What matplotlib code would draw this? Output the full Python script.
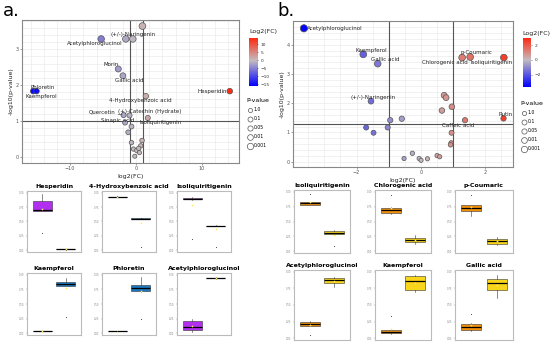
import numpy as np
import matplotlib
matplotlib.use('Agg')
import matplotlib.pyplot as plt
from matplotlib.colors import LinearSegmentedColormap, TwoSlopeNorm

plt.rcParams['font.family'] = 'DejaVu Sans'

# ---- volcano a ----
a_fc = [0.96, -1.56, -0.5, -5.3, -2.7, -2.0, -15.6, -15.1, 14.2, 1.47, 1.77, -1.0,
        -1.9, -1.67, -0.7, -1.2, -0.7, 0.9, 0.7, -0.4, 0.1, 0.4, 0.5, -0.2]
a_logp = [3.65, 3.29, 3.29, 3.29, 2.45, 2.26, 1.83, 1.83, 1.83, 1.69, 1.08, 1.15,
          1.16, 0.95, 0.84, 0.68, 0.39, 0.45, 0.3, 0.21, 0.17, 0.23, 0.11, 0.01]
a_labels = {2: '(+/-)-Naringenin', 3: 'Acetylphloroglucinol', 4: 'Morin', 5: 'Gallic acid',
            6: 'Phloretin', 7: 'Kaempferol', 8: 'Hesperidin', 9: '4-Hydroxybenzoic acid',
            10: 'Isoliquiritigenin', 11: '(+)-Catechin (Hydrate)', 12: 'Quercetin',
            13: 'Sinapic acid'}
# label offsets (data units)
a_offsets = {2: (0, 0.13), 3: (-1.0, -0.14), 4: (-1.1, 0.13), 5: (1.0, -0.12),
             6: (1.5, 0.11), 7: (0.7, -0.15), 8: (-2.6, 0), 9: (-0.9, -0.13),
             10: (2.0, -0.13), 11: (3.1, 0.12), 12: (-3.3, 0.08), 13: (-1.2, 0.05)}

# ---- volcano b ----
b_fc = [-3.64, -1.79, -1.34, -1.55, 1.54, 1.29, 2.59, 2.58, 1.38, 0.73, 0.79, 0.97,
        0.66, 0.96, 0.95, 0.93, -0.95, -0.59, -1.03, -1.7, -1.47, -0.52, -0.26,
        -0.05, 0.01, 0.21, 0.51, 0.59]
b_logp = [4.56, 3.67, 3.35, 2.07, 3.58, 3.56, 3.56, 1.48, 1.42, 2.27, 2.19, 1.88,
          1.75, 0.99, 0.64, 0.58, 1.42, 1.47, 1.17, 1.17, 0.99, 0.11, 0.29, 0.11,
          0.05, 0.10, 0.21, 0.17]
b_labels = {0: 'Acetylphloroglucinol', 1: 'Kaempferol', 2: 'Gallic acid',
            3: '(+/-)-Naringenin', 4: 'p-Coumaric', 5: 'Chlorogenic acid',
            6: 'Isoliquiritigenin', 7: 'Rutin', 8: 'Caffeic acid'}
b_offsets = {0: (0.96, 0), 1: (0.24, 0.12), 2: (0.22, 0.14), 3: (0.08, 0.14),
             4: (0.21, 0.16), 5: (-0.53, -0.16), 6: (-0.38, -0.16), 7: (0.06, 0.14),
             8: (-0.2, -0.17)}

pvals = [1.0, 0.1, 0.05, 0.01, 0.001]

# ---- box panels (normalised intensity) ----
a_box_titles = ['Hesperidin', '4-Hydroxybenzoic acid', 'Isoliquiritigenin',
                'Kaempferol', 'Phloretin', 'Acetylphloroglucinol']
a_box_g1 = [[0.3, 0.68, 0.68, 0.70, 0.85, 0.86, 0.98],
            [0.93, 0.93, 0.935, 0.93, 0.94, 0.93],
            [0.2, 0.88, 0.89, 0.9, 0.92, 0.93],
            [0.03, 0.04, 0.04, 0.04, 0.045],
            [0.02, 0.03, 0.03, 0.03, 0.035],
            [0.02, 0.05, 0.08, 0.15, 0.23, 0.25]]
a_box_g2 = [[0.01, 0.02, 0.02, 0.02, 0.03, 0.02],
            [0.05, 0.55, 0.55, 0.555, 0.56, 0.55],
            [0.06, 0.42, 0.43, 0.43, 0.44, 0.43],
            [0.28, 0.81, 0.83, 0.86, 0.89, 0.95],
            [0.25, 0.71, 0.75, 0.8, 0.84, 0.96],
            [0.93, 0.94, 0.95, 0.95, 0.96]]

b_box_titles = ['Isoliquiritigenin', 'Chlorogenic acid', 'p-Coumaric',
                'Acetylphloroglucinol', 'Kaempferol', 'Gallic acid']
b_box_g1 = [[0.77, 0.78, 0.8, 0.81, 0.83, 0.96],
            [0.62, 0.64, 0.68, 0.71, 0.74, 0.95],
            [0.6, 0.68, 0.7, 0.74, 0.78, 0.95],
            [0.04, 0.18, 0.2, 0.22, 0.25, 0.26],
            [0.06, 0.07, 0.09, 0.1, 0.13, 0.33],
            [0.1, 0.12, 0.15, 0.18, 0.23, 0.37]]
b_box_g2 = [[0.08, 0.28, 0.3, 0.32, 0.34, 0.36],
            [0.12, 0.14, 0.17, 0.2, 0.23, 0.28],
            [0.1, 0.12, 0.15, 0.18, 0.22, 0.24],
            [0.77, 0.82, 0.86, 0.9, 0.92, 0.93],
            [0.7, 0.71, 0.8, 0.93, 0.94, 0.95],
            [0.6, 0.7, 0.8, 0.88, 0.89, 0.96]]

W, H = 550, 354
fig = plt.figure(figsize=(5.5, 3.54), dpi=100)


def px_axes(x0, x1, y0, y1):
    return fig.add_axes([x0 / W, 1 - y1 / H, (x1 - x0) / W, (y1 - y0) / H])


cmap = LinearSegmentedColormap.from_list('fc', ['#0000ff', '#c4bcc0', '#ff2a10'])


def psize(y):
    return 9 + 4 * np.asarray(y)


def volcano(ax, fc, logp, labels, offsets, lims, xlim, ylim, xt, yt, hline, cax, cticks):
    norm = TwoSlopeNorm(vcenter=0, vmin=lims[0], vmax=lims[1])
    ax.set_facecolor('white')
    ax.grid(True, which='both', color='#ebebeb', lw=0.5)
    ax.set_axisbelow(True)
    ax.axvline(-1, color='#555555', lw=0.8, zorder=1)
    ax.axvline(1, color='#555555', lw=0.8, zorder=1)
    ax.axhline(hline, color='#555555', lw=0.8, zorder=1)
    ax.scatter(fc, logp, c=fc, cmap=cmap, norm=norm, s=psize(logp),
               edgecolors='#555555', linewidths=0.5, zorder=3)
    for i, lab in labels.items():
        dx, dy = offsets[i]
        if lab == 'Quercetin':
            ax.annotate(lab, (fc[i], logp[i]), (fc[i] + dx, logp[i] + dy),
                        fontsize=4, ha='center', va='center', color='#222222',
                        arrowprops=dict(arrowstyle='-', lw=0.4, color='#333333',
                                        shrinkA=8, shrinkB=1), zorder=4)
        else:
            ax.text(fc[i] + dx, logp[i] + dy, lab, fontsize=4, ha='center',
                    va='center', color='#222222', zorder=4)
    ax.set_xlim(*xlim)
    ax.set_ylim(*ylim)
    ax.set_xticks(xt)
    ax.set_yticks(yt)
    ax.minorticks_on()
    ax.tick_params(labelsize=3.5, length=1.5, width=0.4, colors='#555555', pad=1)
    ax.tick_params(which='minor', length=0)
    for s in ax.spines.values():
        s.set_color('#888888')
        s.set_linewidth(0.8)
    ax.set_xlabel('log2(FC)', fontsize=4.5, labelpad=1.5, color='#222222')
    ax.set_ylabel('-log10(p-value)', fontsize=4.5, labelpad=1.5, color='#222222')
    # colour bar
    grad = np.linspace(lims[0], lims[1], 256)
    cax.imshow(grad[:, None], extent=[0, 1, lims[0], lims[1]], origin='lower',
               aspect='auto', cmap=cmap, norm=norm)
    cax.set_xticks([])
    cax.yaxis.tick_right()
    cax.set_yticks(cticks)
    cax.tick_params(labelsize=3.2, length=1, width=0.4, pad=1.5, colors='#333333')
    for s in cax.spines.values():
        s.set_visible(False)


# panel a volcano
ax_a = px_axes(22, 239, 20, 163)
cax_a = px_axes(249, 257, 38, 86)
volcano(ax_a, a_fc, a_logp, a_labels, a_offsets, (-16, 14), (-17.3, 15.6), (-0.18, 3.82),
        [-10, 0, 10], [0, 1, 2, 3], 1.0, cax_a, [-15, -10, -5, 0, 5, 10])

# panel b volcano
ax_b = px_axes(293, 513, 21, 167)
cax_b = px_axes(523, 531, 38, 87)
volcano(ax_b, b_fc, b_logp, b_labels, b_offsets, (-3.7, 3.0), (-3.98, 2.875), (-0.18, 4.81),
        [-2, 0, 2], [0, 1, 2, 3, 4], 1.3, cax_b, [-2, 0, 2])

for x, y in [(249, 32), (522, 33)]:
    fig.text(x / W, 1 - y / H, 'Log2(FC)', fontsize=4.5, ha='left', va='center',
             color='#222222')

# size legends
for ax_, (x, y) in [(ax_a, (245, 96)), (ax_b, (519, 99))]:
    handles = [ax_.scatter([], [], s=psize(-np.log10(p)), facecolors='white',
                           edgecolors='#555555', linewidths=0.5) for p in pvals]
    leg = fig.legend(handles, [str(p) for p in pvals], title='P-value', loc='upper left',
                     bbox_to_anchor=(x / W, 1 - y / H), frameon=False, fontsize=3.3,
                     title_fontsize=4.5, labelspacing=0.9, handletextpad=0.3,
                     borderaxespad=0, handlelength=1.2)
    leg._legend_box.align = 'left'

fig.text(3 / W, 1 - 11 / H, 'a.', fontsize=13, ha='left', va='center')
fig.text(277 / W, 1 - 11 / H, 'b.', fontsize=13, ha='left', va='center')


def boxpanel(ax, title, g1, g2, c1, c2):
    bp = ax.boxplot([g1, g2], positions=[1, 2], widths=0.8, patch_artist=True,
                    showmeans=True,
                    medianprops=dict(color='black', lw=0.9),
                    whiskerprops=dict(color='#333333', lw=0.4),
                    capprops=dict(lw=0),
                    boxprops=dict(lw=0.4, edgecolor='#333333'),
                    flierprops=dict(marker='.', markersize=1.5, markerfacecolor='#333333',
                                    markeredgecolor='none'),
                    meanprops=dict(marker='+', markersize=2, markeredgecolor='#ffe866',
                                   markeredgewidth=0.5))
    bp['boxes'][0].set_facecolor(c1)
    bp['boxes'][1].set_facecolor(c2)
    ax.set_xlim(0.35, 2.65)
    ax.set_ylim(-0.03, 1.03)
    ax.set_xticks([1, 2])
    ax.set_xticklabels([])
    ax.set_yticks([0, 0.25, 0.5, 0.75, 1])
    ax.tick_params(labelsize=1.8, length=1, width=0.3, colors='#888888', pad=1)
    for s in ax.spines.values():
        s.set_color('#bbbbbb')
        s.set_linewidth(0.8)
    ax.set_title(title, fontsize=4.5, fontweight='bold', pad=2.5)


a_cols = [(27, 81), (102, 156), (177, 231)]
a_rows = [(191, 252), (273, 335)]
for k in range(6):
    (x0, x1), (y0, y1) = a_cols[k % 3], a_rows[k // 3]
    boxpanel(px_axes(x0, x1, y0, y1), a_box_titles[k], a_box_g1[k], a_box_g2[k],
             '#b32ff0', '#1b78c0')

b_cols = [(294, 350), (375, 431), (455, 513)]
b_rows = [(190, 253), (270, 340)]
for k in range(6):
    (x0, x1), (y0, y1) = b_cols[k % 3], b_rows[k // 3]
    boxpanel(px_axes(x0, x1, y0, y1), b_box_titles[k], b_box_g1[k], b_box_g2[k],
             '#f2900e', '#f9d51c')

fig.savefig('out.png', dpi=100, facecolor='white')
